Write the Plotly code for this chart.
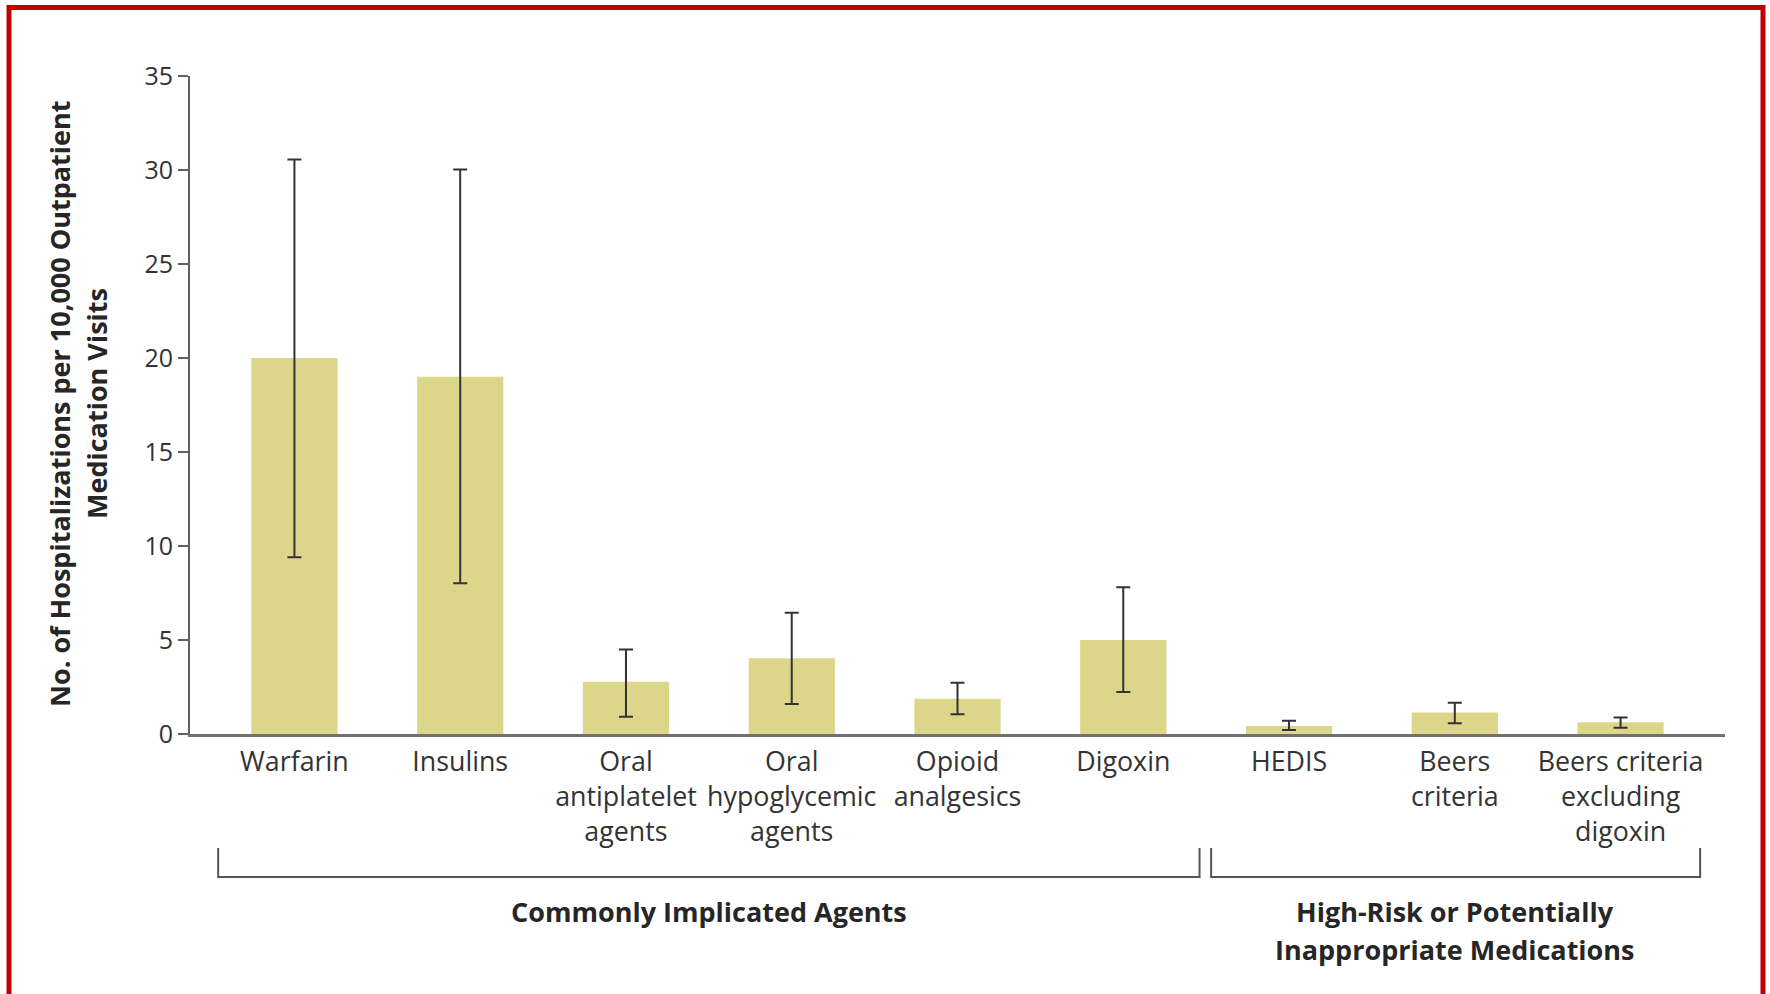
import plotly.graph_objects as go

categories = ["Warfarin", "Insulins", "Oral<br>antiplatelet<br>agents", "Oral<br>hypoglycemic<br>agents",
              "Opioid<br>analgesics", "Digoxin", "HEDIS", "Beers<br>criteria",
              "Beers criteria<br>excluding<br>digoxin"]
rates = [20.0, 19.0, 2.78, 4.03, 1.88, 5.0, 0.43, 1.15, 0.62]
ci_upper = [30.56, 30.03, 4.5, 6.45, 2.73, 7.81, 0.70, 1.66, 0.88]
ci_lower = [9.40, 8.02, 0.92, 1.60, 1.05, 2.24, 0.21, 0.57, 0.33]
y_ticks = [0, 5, 10, 15, 20, 25, 30, 35]
group_left = "Commonly Implicated Agents"
group_right = ["High-Risk or Potentially", "Inappropriate Medications"]

positions = list(range(len(categories)))
err_plus = [u - r for u, r in zip(ci_upper, rates)]
err_minus = [r - l for r, l in zip(rates, ci_lower)]

W, H = 1770, 994
L, R, T, B = 190, 45, 76, 260
pw, ph = W - L - R, H - T - B

def px_x(p):
    return (p - L) / pw

def px_y(p):
    return (H - B - p) / ph

FONT = "Open Sans"
TXT = "#333333"
DARK = "#262626"

fig = go.Figure()
fig.add_trace(go.Bar(
    x=positions, y=rates, width=0.52,
    marker=dict(color="#dcd68a", line=dict(width=0)),
    error_y=dict(type="data", symmetric=False, array=err_plus, arrayminus=err_minus,
                 color="#333333", thickness=2, width=7),
    hoverinfo="skip",
))

fig.update_layout(
    width=W, height=H,
    margin=dict(l=L, r=R, t=T, b=B, pad=0),
    paper_bgcolor="white", plot_bgcolor="white",
    showlegend=False,
    font=dict(family=FONT, color=TXT, size=26),
    xaxis=dict(
        range=[-0.63, 8.63], tickmode="array", tickvals=positions, ticktext=categories,
        showline=True, linecolor="#707070", linewidth=3, ticks="", showgrid=False,
        zeroline=False, tickfont=dict(family=FONT, size=26.8, color=TXT),
        ticklabelstandoff=2,
    ),
    yaxis=dict(
        range=[0, 35], tickmode="array", tickvals=y_ticks,
        showline=True, linecolor="#606060", linewidth=2, ticks="outside", ticklen=10,
        tickwidth=2, tickcolor="#606060", showgrid=False, zeroline=False,
        tickfont=dict(family=FONT, size=25, color=TXT),
    ),
)

# y-axis title
fig.add_annotation(
    text="<b>No. of Hospitalizations per 10,000 Outpatient</b>",
    xref="paper", yref="paper", x=px_x(59), y=px_y(404), textangle=-90,
    showarrow=False, xanchor="center", yanchor="middle",
    font=dict(family=FONT, size=27, color=DARK),
)
fig.add_annotation(
    text="<b>Medication Visits</b>",
    xref="paper", yref="paper", x=px_x(96), y=px_y(404), textangle=-90,
    showarrow=False, xanchor="center", yanchor="middle",
    font=dict(family=FONT, size=27, color=DARK),
)

# group brackets
brackets = [(-0.46, 5.46), (5.53, 8.48)]
for x0, x1 in brackets:
    fig.add_shape(type="path",
                  path=f"M {x0},{px_y(848)} L {x0},{px_y(877)} L {x1},{px_y(877)} L {x1},{px_y(848)}",
                  xref="x", yref="paper", line=dict(color="#555555", width=2))

fig.add_annotation(text="<b>" + group_left + "</b>", xref="x", yref="paper",
                   x=2.5, y=px_y(912), showarrow=False, xanchor="center", yanchor="middle",
                   font=dict(family=FONT, size=27, color=DARK))
for line_text, ypix in zip(group_right, [912, 949]):
    fig.add_annotation(text="<b>" + line_text + "</b>", xref="x", yref="paper",
                       x=7.0, y=px_y(ypix), showarrow=False, xanchor="center", yanchor="middle",
                       font=dict(family=FONT, size=27, color=DARK))

# red frame
fig.add_shape(type="rect", xref="paper", yref="paper",
              x0=px_x(9), x1=px_x(1763), y0=px_y(998), y1=px_y(7.5),
              line=dict(color="#c00000", width=5), fillcolor="rgba(0,0,0,0)", layer="above")

fig.write_html("out.html")
